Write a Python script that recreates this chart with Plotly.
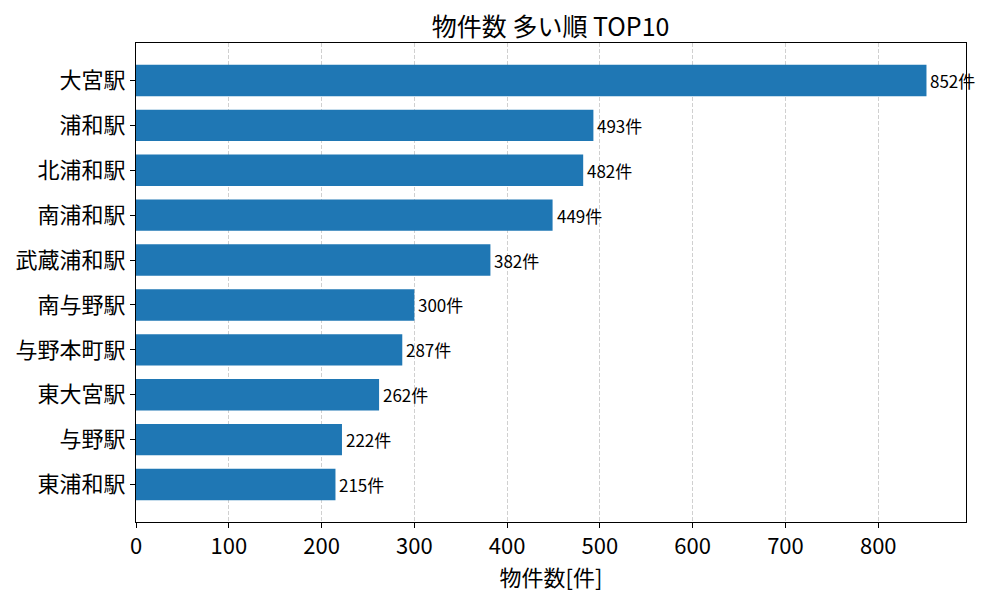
import plotly.graph_objects as go

stations = ["大宮駅", "浦和駅", "北浦和駅", "南浦和駅", "武蔵浦和駅",
            "南与野駅", "与野本町駅", "東大宮駅", "与野駅", "東浦和駅"]
counts = [852, 493, 482, 449, 382, 300, 287, 262, 222, 215]
x_ticks = [0, 100, 200, 300, 400, 500, 600, 700, 800]

FONT = "Noto Sans CJK JP"
BLUE = "#1f77b4"

pos = list(range(len(stations)))

fig = go.Figure(
    go.Bar(
        x=counts,
        y=pos,
        orientation="h",
        width=0.7,
        marker=dict(color=BLUE, line=dict(width=0)),
        hoverinfo="x+y",
    )
)

# labels right of each bar
for p, c in zip(pos, counts):
    fig.add_annotation(
        x=c, y=p, text=f"{c}件", showarrow=False,
        xanchor="left", yanchor="middle", xshift=2,
        font=dict(family=FONT, size=17, color="black"),
    )

fig.update_xaxes(
    range=[0, max(counts) * 1.05],
    tickvals=x_ticks,
    ticks="outside", ticklen=5, tickcolor="black",
    tickfont=dict(family=FONT, size=22, color="black"),
    showgrid=True, gridcolor="#d0d0d0", griddash="4px,2px", gridwidth=1,
    showline=True, linecolor="black", linewidth=1, mirror=True,
    zeroline=False, automargin=False,
    title=dict(text="物件数[件]", font=dict(family=FONT, size=22, color="black"), standoff=0),
)
fig.update_yaxes(
    range=[len(stations) - 1 + 0.835, -0.835],
    tickvals=pos, ticktext=stations,
    ticks="outside", ticklen=5, tickcolor="black",
    tickfont=dict(family=FONT, size=22, color="black"),
    showgrid=False,
    showline=True, linecolor="black", linewidth=1, mirror=True,
    zeroline=False, automargin=False,
)

# page body has an 8px margin, so size/margins compensate for it
fig.update_layout(
    width=992, height=592,
    margin=dict(l=128, r=34, t=35, b=78),
    paper_bgcolor="white", plot_bgcolor="white",
    title=dict(text="物件数 多い順 TOP10", x=0.547, xanchor="center",
               y=0.968, yanchor="middle",
               font=dict(family=FONT, size=25, color="black")),
    showlegend=False,
)

fig.write_html("out.html")
